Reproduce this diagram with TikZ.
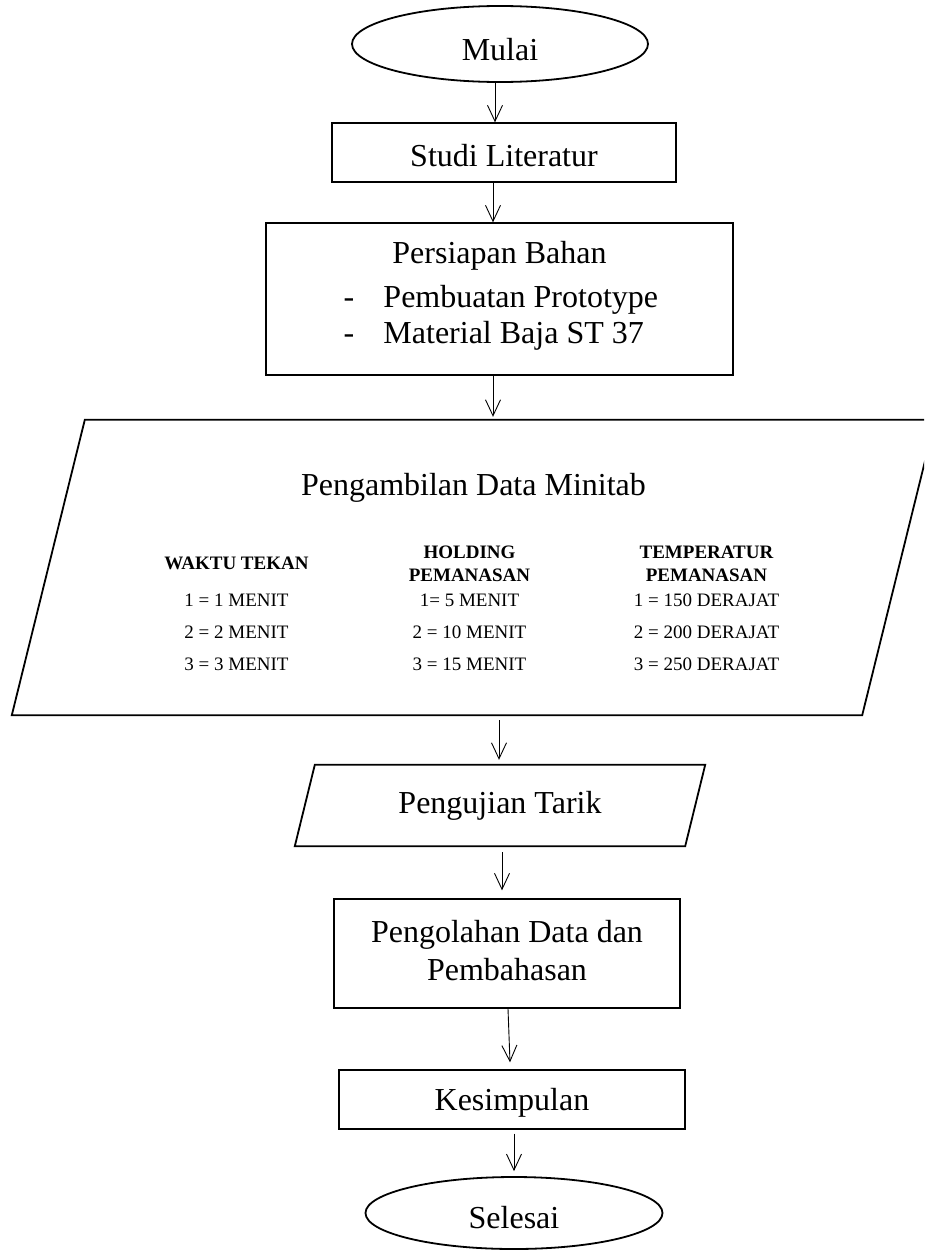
\documentclass[tikz,border=0pt]{standalone}
\usepackage{fontspec}
\setmainfont{Liberation Serif}
\usetikzlibrary{shapes.geometric,arrows.meta}
\begin{document}
\begin{tikzpicture}[x=1pt,y=-1pt,
  txt/.style={font=\fontsize{32}{38}\selectfont, inner sep=0pt},
  term/.style={txt, ellipse, draw, line width=1.8pt},
  box/.style={txt, rectangle, draw, line width=1.3pt},
  flow/.style={draw, line width=0.9pt, -{Straight Barb[length=16pt,width=15pt]}},
  para/.style={line width=1.8pt, line join=miter}
]
\useasboundingbox (0,0) rectangle (924,1250);
\clip (0,0) rectangle (924,1250);

\node[term, minimum width=296pt, minimum height=76pt, text height=32pt, text depth=0pt] (mulai) at (500,44) {Mulai};

\node[box, minimum width=344pt, minimum height=59pt, text height=27pt, text depth=0pt] (studi) at (504,152.5) {Studi Literatur};

\node[box, minimum width=467pt, minimum height=152pt, font=\fontsize{32}{36}\selectfont] (persiapan) at (499.5,299)
 {\begin{tabular}{@{}c@{}}Persiapan Bahan\\[8pt]
  \makebox[312pt][l]{\makebox[40pt][l]{-}Pembuatan Prototype}\\
  \makebox[312pt][l]{\makebox[40pt][l]{-}Material Baja ST 37}\\[6pt]
  \end{tabular}};

\node[draw=none, minimum width=923pt, minimum height=295pt, inner sep=0pt, font=\fontsize{19}{23}\selectfont] (data) at (473.5,567.5)
 {\begin{tabular}{@{}c@{}c@{}c@{}}
  \multicolumn{3}{@{}c@{}}{\fontsize{32}{38}\selectfont\rule{0pt}{38pt}Pengambilan Data Minitab}\\[40pt]
  \makebox[230pt]{\bfseries WAKTU TEKAN} &
  \makebox[236pt]{\bfseries\begin{tabular}{@{}c@{}}HOLDING\\PEMANASAN\end{tabular}} &
  \makebox[238pt]{\bfseries\begin{tabular}{@{}c@{}}TEMPERATUR\\PEMANASAN\end{tabular}}\\[14pt]
  \makebox[230pt]{1 = 1 MENIT} & \makebox[236pt]{1= 5 MENIT} & \makebox[238pt]{1 = 150 DERAJAT}\\[9pt]
  \makebox[230pt]{2 = 2 MENIT} & \makebox[236pt]{2 = 10 MENIT} & \makebox[238pt]{2 = 200 DERAJAT}\\[9pt]
  \makebox[230pt]{3 = 3 MENIT} & \makebox[236pt]{3 = 15 MENIT} & \makebox[238pt]{3 = 250 DERAJAT}
  \end{tabular}};
\draw[para] ([xshift=73pt]data.north west) -- (data.north east) -- ([xshift=-73pt]data.south east) -- (data.south west) -- cycle;

\node[txt, minimum width=410pt, minimum height=81pt, text height=22pt, text depth=7pt] (tarik) at (500,805.5) {Pengujian Tarik};
\draw[para] ([xshift=20pt]tarik.north west) -- (tarik.north east) -- ([xshift=-20pt]tarik.south east) -- (tarik.south west) -- cycle;

\node[box, minimum width=346pt, minimum height=109pt] (olah) at (507,953.5)
 {\begin{tabular}{@{}c@{}}Pengolahan Data dan\\Pembahasan\end{tabular}};

\node[box, minimum width=346pt, minimum height=59pt, text height=24pt, text depth=3pt] (kes) at (512,1099.5) {Kesimpulan};

\node[term, minimum width=297pt, minimum height=72pt, text height=30pt, text depth=0pt] (selesai) at (514,1213) {Selesai};

\coordinate (s1) at ([xshift=-5pt]mulai.south);
\draw[flow] (s1) -- (s1 |- studi.north);
\coordinate (s2) at ([xshift=-11pt]studi.south);
\draw[flow] (s2) -- (s2 |- persiapan.north);
\coordinate (s3) at ([xshift=-6.5pt]persiapan.south);
\coordinate (e3) at ([yshift=3pt]data.north);
\draw[flow] (s3) -- (s3 |- e3);
\coordinate (s4) at ([xshift=25.5pt,yshift=-5pt]data.south);
\coordinate (e4) at ([yshift=5pt]tarik.north);
\draw[flow] (s4) -- (s4 |- e4);
\coordinate (s5) at ([xshift=2pt,yshift=-6pt]tarik.south);
\coordinate (e5) at ([yshift=8pt]olah.north);
\draw[flow] (s5) -- (s5 |- e5);
\coordinate (s6) at ([xshift=1pt]olah.south);
\coordinate (e6) at ([xshift=-2pt,yshift=7pt]kes.north);
\draw[flow] (s6) -- (e6);
\coordinate (s7) at ([xshift=2pt,yshift=-4pt]kes.south);
\coordinate (e7) at ([yshift=5pt]selesai.north);
\draw[flow] (s7) -- (s7 |- e7);
\end{tikzpicture}
\end{document}
